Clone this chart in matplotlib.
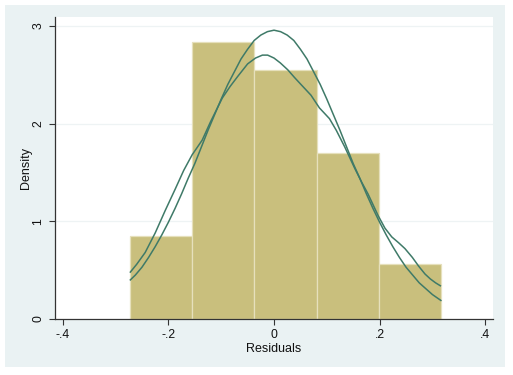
import matplotlib
matplotlib.use("Agg")
import matplotlib.pyplot as plt
from matplotlib.patches import Rectangle

# Histogram of residuals (density scale)
bin_edges = [-0.272, -0.1545, -0.037, 0.0805, 0.198, 0.3155]
bin_density = [0.85, 2.835, 2.55, 1.70, 0.567]

# Kernel density estimate
kde_x = [-0.272, -0.260, -0.244, -0.225, -0.206, -0.187, -0.171, -0.155, -0.136,
         -0.120, -0.098, -0.083, -0.069, -0.050, -0.035, -0.022, -0.012, 0.000,
         0.012, 0.026, 0.039, 0.051, 0.070, 0.086, 0.105, 0.118, 0.134, 0.153,
         0.166, 0.178, 0.197, 0.210, 0.223, 0.236, 0.248, 0.262, 0.274, 0.286,
         0.296, 0.306, 0.315]
kde_y = [0.48, 0.56, 0.68, 0.88, 1.11, 1.33, 1.52, 1.68, 1.83,
         2.02, 2.26, 2.38, 2.48, 2.61, 2.67, 2.70, 2.70, 2.67,
         2.62, 2.55, 2.47, 2.40, 2.29, 2.16, 2.05, 1.93, 1.76, 1.54,
         1.40, 1.28, 1.06, 0.93, 0.84, 0.78, 0.72, 0.63, 0.54, 0.46,
         0.41, 0.37, 0.34]

# Normal density overlay
norm_x = [-0.272, -0.2625, -0.25, -0.2375, -0.225, -0.2125, -0.2, -0.1875, -0.175,
          -0.1625, -0.15, -0.1375, -0.125, -0.1125, -0.1, -0.0875, -0.075, -0.0625,
          -0.05, -0.0375, -0.025, -0.0125, 0.0, 0.0125, 0.025, 0.0375, 0.05, 0.0625,
          0.075, 0.0875, 0.1, 0.1125, 0.125, 0.1375, 0.15, 0.1625, 0.175, 0.1875,
          0.2, 0.2125, 0.225, 0.2375, 0.25, 0.2625, 0.275, 0.2875, 0.3, 0.308, 0.316]
norm_y = [0.40, 0.45, 0.53, 0.63, 0.74, 0.86, 0.99, 1.13, 1.28,
          1.44, 1.59, 1.76, 1.93, 2.09, 2.25, 2.40, 2.53, 2.66,
          2.76, 2.85, 2.905, 2.94, 2.955, 2.94, 2.905, 2.85, 2.76, 2.66,
          2.53, 2.40, 2.25, 2.09, 1.93, 1.76, 1.59, 1.44, 1.28, 1.13,
          0.99, 0.86, 0.74, 0.63, 0.53, 0.45, 0.37, 0.31, 0.25, 0.22, 0.19]

x_ticks = [-0.4, -0.2, 0.0, 0.2, 0.4]
x_tick_labels = ["-.4", "-.2", "0", ".2", ".4"]
y_ticks = [0, 1, 2, 3]
y_tick_labels = ["0", "1", "2", "3"]

plt.rcParams['font.family'] = ['Liberation Sans', 'DejaVu Sans']

W, H = 513, 375
fig = plt.figure(figsize=(W / 100, H / 100), dpi=100)
fig.patch.set_facecolor('white')
bg = Rectangle((5 / W, 1 - 367 / H), 500 / W, 362 / H,
               transform=fig.transFigure, facecolor='#EAF2F3',
               edgecolor='none', zorder=-10)
fig.patches.append(bg)

ax = fig.add_axes([55 / W, 1 - 319 / H, 438 / W, 302 / H])
ax.set_zorder(5)
ax.set_facecolor('white')

for g in [1, 2, 3]:
    ax.axhline(g, color='#EEF3F4', lw=0.9, zorder=0.5)

widths = [bin_edges[i + 1] - bin_edges[i] for i in range(len(bin_density))]
ax.bar(bin_edges[:-1], bin_density, width=widths, align='edge',
       color='#C9BF7D', edgecolor='#E6E0BC', linewidth=0.9, zorder=2)

line_color = '#3F7A68'
ax.plot(kde_x, kde_y, color=line_color, lw=1.1, zorder=3)
ax.plot(norm_x, norm_y, color=line_color, lw=1.1, zorder=3)

ax.set_xlim(-0.4147, 0.4147)
ax.set_ylim(0, 3.09)
ax.set_xticks(x_ticks)
ax.set_xticklabels(x_tick_labels)
ax.set_yticks(y_ticks)
ax.set_yticklabels(y_tick_labels, rotation=90, va='center')

for s in ['top', 'right']:
    ax.spines[s].set_visible(False)
for s in ['left', 'bottom']:
    ax.spines[s].set_color('#333333')
    ax.spines[s].set_linewidth(0.9)

ax.tick_params(axis='both', labelsize=8.8, length=4, width=0.8, color='#333333',
               labelcolor='#111111', pad=3.5)
ax.set_xlabel('Residuals', fontsize=9, labelpad=1, color='#111111')
ax.set_ylabel('Density', fontsize=9, labelpad=0.5, color='#111111')

fig.savefig('out.png', dpi=100, facecolor='white')
